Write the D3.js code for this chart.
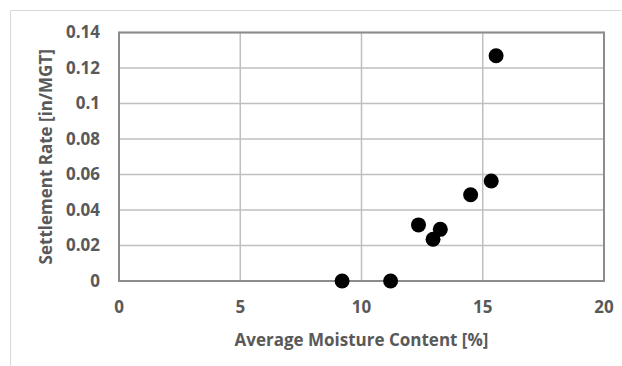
<!DOCTYPE html>
<html>
  <head>
    <meta charset="utf-8">
    <style>
      body { margin: 0; background: #fff; }
      svg text { font-family: "Open Sans", sans-serif; fill: #595959; font-weight: bold; }
    </style>
  </head>
  <body>
    <div class='chart-container'></div>
    <script src="https://cdn.jsdelivr.net/npm/d3@7"></script>
    <script>
// data
var moisture = [9.2, 11.2, 12.35, 12.95, 13.25, 14.5, 15.35, 15.55];
var settlement = [0, 0, 0.0316, 0.0235, 0.0291, 0.0486, 0.0563, 0.1269];
var xTicks = [0, 5, 10, 15, 20];
var yTicks = [0, 0.02, 0.04, 0.06, 0.08, 0.1, 0.12, 0.14];

var W = 622, H = 366;
var margin = {top: 32.5, right: 18, bottom: 85, left: 119};
var width = W - margin.left - margin.right;
var height = H - margin.top - margin.bottom;

var x = d3.scaleLinear().domain([0, 20]).range([0, width]);
var y = d3.scaleLinear().domain([0, 0.14]).range([height, 0]);

var root = d3.select('.chart-container').append('svg')
    .attr('width', W)
    .attr('height', H);

// outer chart frame
root.append('path')
    .attr('d', 'M10.5,' + H + 'V10.5H' + (W - 1))
    .style('fill', 'none')
    .style('stroke', '#d9d9d9')
    .style('stroke-width', 1);

var svg = root.append('g')
    .attr('transform', 'translate(' + margin.left + ',' + margin.top + ')');

// gridlines
svg.selectAll('.hgrid').data(yTicks).enter().append('line')
    .attr('x1', 0).attr('x2', width)
    .attr('y1', d => y(d)).attr('y2', d => y(d))
    .style('stroke', '#bfbfbf').style('stroke-width', 1.5);
svg.selectAll('.vgrid').data(xTicks).enter().append('line')
    .attr('y1', 0).attr('y2', height)
    .attr('x1', d => x(d)).attr('x2', d => x(d))
    .style('stroke', '#bfbfbf').style('stroke-width', 1.5);

svg.append('rect')
    .attr('width', width).attr('height', height)
    .style('fill', 'none')
    .style('stroke', '#8c8c8c')
    .style('stroke-width', 2);

// tick labels
svg.selectAll('.ylab').data(yTicks).enter().append('text')
    .attr('x', -19)
    .attr('y', d => y(d))
    .attr('dy', '0.35em')
    .attr('text-anchor', 'end')
    .style('font-size', '17px')
    .text(d => d3.format('')(d));
svg.selectAll('.xlab').data(xTicks).enter().append('text')
    .attr('x', d => x(d))
    .attr('y', height + 32)
    .attr('text-anchor', 'middle')
    .style('font-size', '17px')
    .text(d => d);

// axis titles
svg.append('text')
    .attr('x', width / 2)
    .attr('y', height + 65)
    .attr('text-anchor', 'middle')
    .style('font-size', '17px')
    .text('Average Moisture Content [%]');
svg.append('text')
    .attr('transform', 'translate(-73,' + (height / 2) + ') rotate(-90)')
    .attr('dy', '0.35em')
    .attr('text-anchor', 'middle')
    .style('font-size', '17px')
    .text('Settlement Rate [in/MGT]');

// points
svg.selectAll('circle').data(moisture).enter().append('circle')
    .attr('cx', d => x(d))
    .attr('cy', (d, i) => y(settlement[i]))
    .attr('r', 7.5)
    .style('fill', '#000');
    </script>
  </body>
</html>
